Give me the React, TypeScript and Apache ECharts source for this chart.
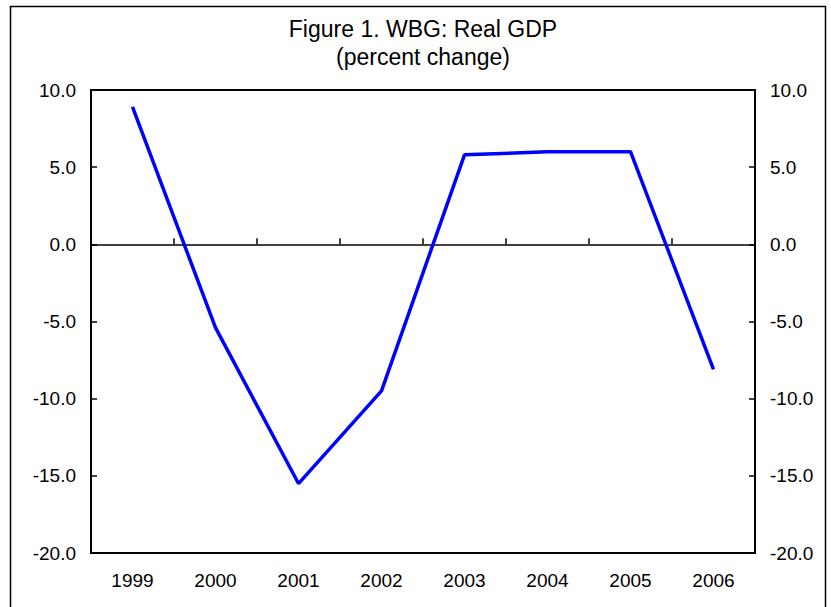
import React, { useEffect, useRef } from "react";
import * as echarts from "echarts";

const years = ["1999", "2000", "2001", "2002", "2003", "2004", "2005", "2006"];
const gdp = [8.9, -5.4, -15.5, -9.5, 5.8, 6.0, 6.0, -8.1];
const titleLines = ["Figure 1. WBG: Real GDP", "(percent change)"];

export default function App() {
  const ref = useRef<HTMLDivElement>(null);
  useEffect(() => {
    if (!ref.current) return;
    const chart = echarts.init(ref.current, null, { renderer: "svg" });
    const font = "Liberation Sans, Arial, sans-serif";
    const yAxisBase = {
      type: "value",
      min: -20,
      max: 10,
      interval: 5,
      axisLine: { show: true, lineStyle: { color: "#000", width: 2 } },
      axisTick: { show: true, inside: true, length: 6, lineStyle: { color: "#000", width: 1.5 } },
      splitLine: { show: false },
      axisLabel: {
        formatter: (v: number) => v.toFixed(1),
        color: "#000",
        fontSize: 19,
        fontFamily: font,
        margin: 15,
      },
    };
    chart.setOption({
      animation: false,
      backgroundColor: "#fff",
      title: {
        text: titleLines.join("\n"),
        left: 418,
        top: 10,
        textAlign: "center",
        textStyle: { fontSize: 23, fontWeight: "normal", color: "#000", fontFamily: font, lineHeight: 28 },
      },
      graphic: [
        {
          type: "rect",
          shape: { x: 10.5, y: 6.5, width: 815, height: 640 },
          style: { fill: "none", stroke: "#000", lineWidth: 1.5 },
          silent: true,
        },
      ],
      grid: {
        left: 91,
        right: 76,
        top: 90,
        bottom: 54,
        show: true,
        borderColor: "#000",
        borderWidth: 2,
        backgroundColor: "transparent",
      },
      xAxis: [
        {
          type: "category",
          data: years,
          position: "bottom",
          axisLine: { show: false, onZero: false },
          axisTick: { show: false },
          axisLabel: { color: "#000", fontSize: 19, fontFamily: font, margin: 18 },
        },
        {
          type: "category",
          data: years,
          position: "bottom",
          axisLine: { show: true, onZero: true, lineStyle: { color: "#000", width: 1.5 } },
          axisTick: { show: true, inside: true, length: 6, lineStyle: { color: "#000", width: 1.5 } },
          axisLabel: { show: false },
        },
      ],
      yAxis: [
        { ...yAxisBase, position: "left" },
        { ...yAxisBase, position: "right" },
      ],
      series: [
        {
          type: "line",
          data: gdp,
          xAxisIndex: 0,
          yAxisIndex: 0,
          showSymbol: false,
          symbol: "none",
          lineStyle: { color: "#0000ff", width: 3.5 },
        },
      ],
    });
    return () => chart.dispose();
  }, []);
  return <div ref={ref} style={{ width: 831, height: 607, position: "absolute", left: 0, top: 0 }} />;
}
